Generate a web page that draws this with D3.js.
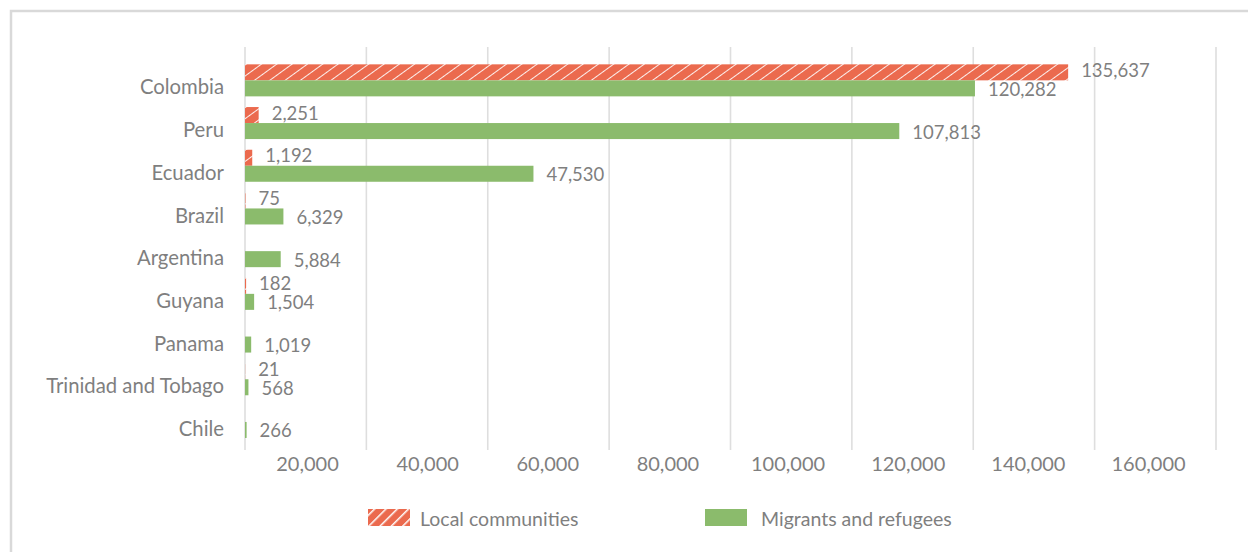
<!DOCTYPE html>
<html>
<head>
<meta charset="utf-8">
<script src="https://cdn.jsdelivr.net/npm/d3@7"></script>
<style>
  body { margin: 0; background: #fff; }
  svg { display: block; font-family: Lato, "Open Sans", sans-serif; }
</style>
</head>
<body>
<svg id="chart" width="1248" height="552"></svg>
<script>
"use strict";

// values
const categories = ["Colombia", "Peru", "Ecuador", "Brazil", "Argentina", "Guyana", "Panama", "Trinidad and Tobago", "Chile"];
const localCommunities = [135637, 2251, 1192, 75, null, 182, null, 21, null];
const migrantsRefugees = [120282, 107813, 47530, 6329, 5884, 1504, 1019, 568, 266];
const seriesNames = ["Local communities", "Migrants and refugees"];
const xTicks = [0, 20000, 40000, 60000, 80000, 100000, 120000, 140000, 160000];

const RED = "#eb6a4e";
const GREEN = "#8bbb6c";
const TEXT = "#7f7f7f";
const GRID = "#dedede";

const svg = d3.select("#chart");

// hatch for the local communities bars
const defs = svg.append("defs");
defs.append("pattern")
  .attr("id", "hatch")
  .attr("patternUnits", "userSpaceOnUse")
  .attr("width", 9).attr("height", 9)
  .attr("patternTransform", "rotate(54)")
  .call(p => {
    p.append("rect").attr("width", 9).attr("height", 9).attr("fill", RED);
    p.append("line").attr("x1", 0).attr("y1", 0).attr("x2", 0).attr("y2", 9)
      .attr("stroke", "#fff").attr("stroke-width", 1.8);
  });
defs.append("pattern")
  .attr("id", "hatchLegend")
  .attr("patternUnits", "userSpaceOnUse")
  .attr("width", 8).attr("height", 8)
  .attr("patternTransform", "rotate(45)")
  .call(p => {
    p.append("rect").attr("width", 8).attr("height", 8).attr("fill", RED);
    p.append("line").attr("x1", 0).attr("y1", 0).attr("x2", 0).attr("y2", 8)
      .attr("stroke", "#fff").attr("stroke-width", 3);
  });

// frame (only top and left edges fall inside the picture)
svg.append("path")
  .attr("d", "M11,560V11H1260")
  .attr("fill", "none").attr("stroke", "#d9d9d9").attr("stroke-width", 2.5);

const x = d3.scaleLinear().domain([0, 160000]).range([245, 1216]);
// tick labels in the source sit between the gridlines
const xLabel = d3.scaleLinear().domain([20000, 160000]).range([307, 1148]);
const y = d3.scaleBand().domain(categories).range([59, 443.3])
  .paddingInner(0.25).paddingOuter(0.125);
const ySub = d3.scaleBand().domain(seriesNames).range([0, y.bandwidth()]);

// gridlines
svg.append("g")
  .selectAll("line")
  .data(xTicks)
  .join("line")
  .attr("x1", d => x(d)).attr("x2", d => x(d))
  .attr("y1", 47).attr("y2", 450)
  .attr("stroke", GRID).attr("stroke-width", 1.6);

const xAxis = svg.append("g")
  .attr("transform", "translate(0,454)")
  .call(d3.axisBottom(xLabel).tickValues(xTicks.slice(1)).tickSize(0).tickPadding(3)
    .tickFormat(d3.format(",")));
xAxis.select(".domain").remove();
xAxis.selectAll("text")
  .attr("fill", TEXT)
  .style("font-size", "20px")
  .style("font-family", "Lato, sans-serif");

// category labels, level with the migrants bar
svg.append("g")
  .selectAll("text")
  .data(categories)
  .join("text")
  .attr("x", 224)
  .attr("y", d => y(d) + ySub(seriesNames[1]) + ySub.bandwidth() / 2 - 1)
  .attr("dy", "0.35em")
  .attr("text-anchor", "end")
  .attr("fill", TEXT)
  .style("font-size", "20.3px")
  .text(d => d);

const rows = categories.map((c, i) => ({
  cat: c,
  values: [
    { key: seriesNames[0], value: localCommunities[i] },
    { key: seriesNames[1], value: migrantsRefugees[i] }
  ]
}));

const groups = svg.append("g")
  .selectAll("g")
  .data(rows)
  .join("g")
  .attr("transform", d => `translate(0,${y(d.cat)})`);

groups.selectAll("rect")
  .data(d => d.values.filter(v => v.value != null))
  .join("rect")
  .attr("x", x(0))
  .attr("y", d => ySub(d.key))
  .attr("width", d => x(d.value) - x(0))
  .attr("height", ySub.bandwidth())
  .attr("fill", d => d.key === seriesNames[0] ? "url(#hatch)" : GREEN);

// value labels; the local one is lifted a little so the pairs don't touch
groups.selectAll("text")
  .data(d => d.values.filter(v => v.value != null))
  .join("text")
  .attr("x", d => x(d.value) + 13)
  .attr("y", d => ySub(d.key) + ySub.bandwidth() / 2 + (d.key === seriesNames[0] ? -2 : 1))
  .attr("dy", "0.35em")
  .attr("fill", TEXT)
  .style("font-size", "18.5px")
  .text(d => d3.format(",")(d.value));

// legend
const legend = svg.append("g");
const legendItems = [
  { name: seriesNames[0], fill: "url(#hatchLegend)", x: 368, tx: 420 },
  { name: seriesNames[1], fill: GREEN, x: 705, tx: 761 }
];
legend.selectAll("rect")
  .data(legendItems)
  .join("rect")
  .attr("x", d => d.x).attr("y", 509)
  .attr("width", 42).attr("height", 17)
  .attr("fill", d => d.fill);
legend.selectAll("text")
  .data(legendItems)
  .join("text")
  .attr("x", d => d.tx).attr("y", 519)
  .attr("dy", "0.35em")
  .attr("fill", TEXT)
  .style("font-size", "19.5px")
  .text(d => d.name);
</script>
</body>
</html>
